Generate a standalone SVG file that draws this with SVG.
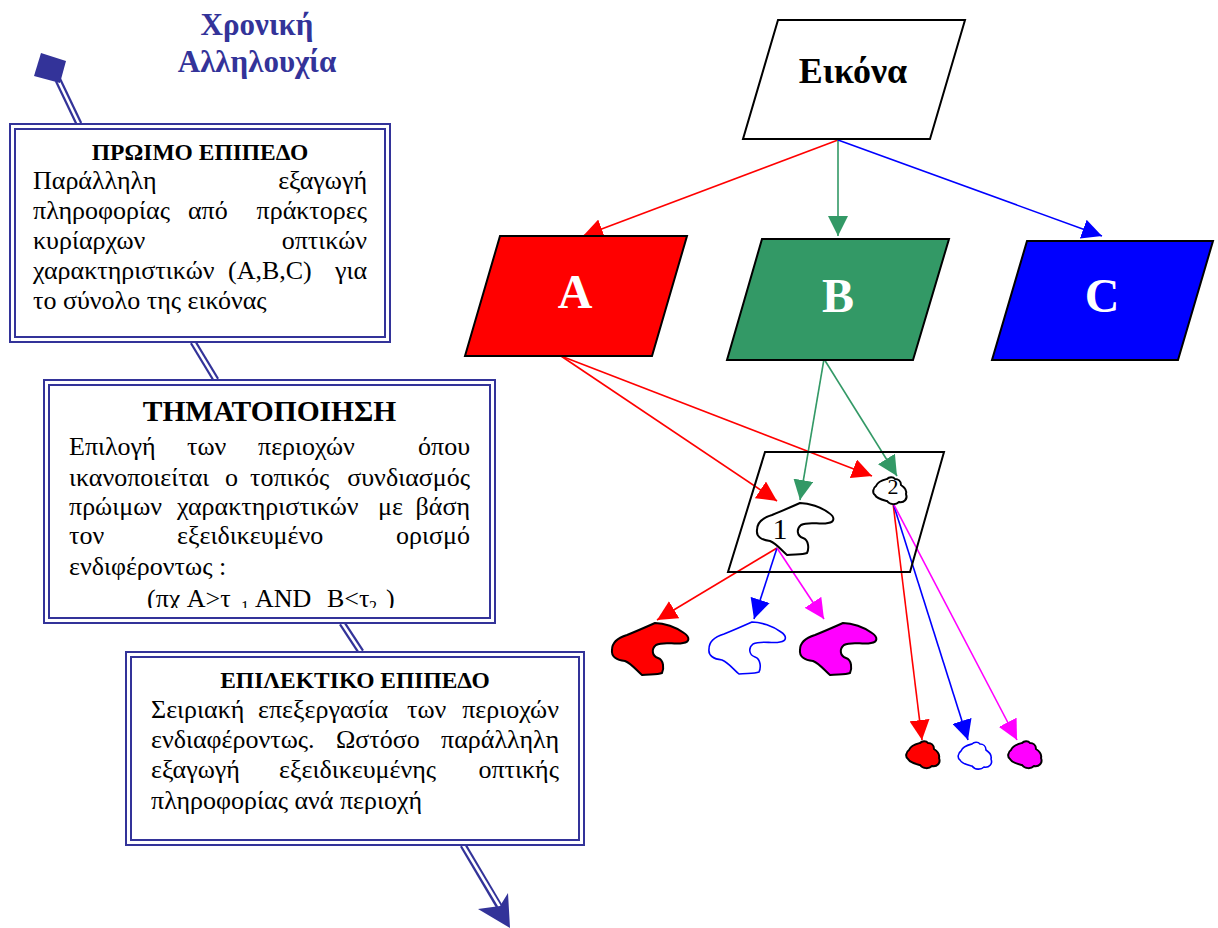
<svg xmlns="http://www.w3.org/2000/svg" width="1218" height="928" viewBox="0 0 1218 928">
  <defs>
    <style>
      .t { font-family: "Liberation Serif", "Times New Roman", serif; fill: #000; }
      .body { font-size: 26px; }
      .hd { font-size: 23.5px; font-weight: bold; text-anchor: middle; }
      .e { text-anchor: end; }
      .ttl { font-family: "Liberation Serif", "Times New Roman", serif; font-size: 31px; font-weight: bold; fill: #333399; text-anchor: middle; }
      .frame { fill: #fff; stroke: #333399; stroke-width: 2; }
      .inner { fill: none; stroke: #333399; stroke-width: 2; }
      .dbl-o { fill: none; stroke: #333399; stroke-width: 7; }
      .dbl-i { fill: none; stroke: #fff; stroke-width: 2.5; }
      .sh { stroke: #000; stroke-width: 2; stroke-linejoin: miter; }
      .lbl { font-family: "Liberation Serif", "Times New Roman", serif; font-weight: bold; fill: #fff; font-size: 48px; text-anchor: middle; }
      .ar { fill: none; stroke-width: 1.6; }
      .red { stroke: #ff0000; }
      .grn { stroke: #339966; }
      .blu { stroke: #0000ff; }
      .mag { stroke: #ff00ff; }
    </style>
    <marker id="ah-red" markerUnits="userSpaceOnUse" markerWidth="20" markerHeight="20" viewBox="0 0 20 20" refX="20" refY="10" orient="auto"><path d="M0,0 L20,10 L0,20 Z" fill="#ff0000"/></marker>
    <marker id="ah-grn" markerUnits="userSpaceOnUse" markerWidth="20" markerHeight="20" viewBox="0 0 20 20" refX="20" refY="10" orient="auto"><path d="M0,0 L20,10 L0,20 Z" fill="#339966"/></marker>
    <marker id="ah-blu" markerUnits="userSpaceOnUse" markerWidth="20" markerHeight="20" viewBox="0 0 20 20" refX="20" refY="10" orient="auto"><path d="M0,0 L20,10 L0,20 Z" fill="#0000ff"/></marker>
    <marker id="ah-mag" markerUnits="userSpaceOnUse" markerWidth="20" markerHeight="20" viewBox="0 0 20 20" refX="20" refY="10" orient="auto"><path d="M0,0 L20,10 L0,20 Z" fill="#ff00ff"/></marker>
    <!-- region outlines -->
    <path id="blob-big" d="M0,0 C9,0 21,4 29,10 C35,14 35,19 28,20 C20,22 9,18 1,22 C-4,26 -3,33 3,35 C9,37 9,46 7,50 C2,52 -6,51 -13,52 C-19,47 -23,41 -30,38 C-38,37 -44,34 -43,27 C-43,20 -38,15 -28,12 C-18,8 -9,4 0,0 Z"/>
    <path id="blob-small" d="M3,9 C5,4 10,3 14,2 C16,0 20,-0.5 22,2 C25,2 28,4 28,8 C31,10 34,13 33,17 C35,22 31,26 26,25 C23,28 17,28 14,24 C10,23 4,22 2,18 C-1,16 0,11 3,9 Z"/>
    <clipPath id="box2-clip"><rect x="50" y="386" width="439" height="222"/></clipPath>
  </defs>

  <!-- heading -->
  <text class="ttl" x="257" y="35">Χρονική</text>
  <text class="ttl" x="257" y="72">Αλληλουχία</text>

  <g id="connectors">
    <!-- processing flow (double line) -->
    <g id="flow">
      <path class="dbl-o" d="M58,80 L79,124"/><path class="dbl-i" d="M58,80 L79,124"/>
      <path class="dbl-o" d="M193,342 L216,380"/><path class="dbl-i" d="M193,342 L216,380"/>
      <path class="dbl-o" d="M342,623 L361,652"/><path class="dbl-i" d="M342,623 L361,652"/>
      <path class="dbl-o" d="M463,845 L499,906"/><path class="dbl-i" d="M463,845 L500,907"/>
      <polygon points="478,909 510,928 508,893 500,906" fill="#333399"/>
    </g>
    <!-- image to feature maps -->
    <line class="ar red" x1="838" y1="140" x2="583" y2="236" marker-end="url(#ah-red)"/>
    <line class="ar grn" x1="838" y1="140" x2="838" y2="236" marker-end="url(#ah-grn)"/>
    <line class="ar blu" x1="838" y1="140" x2="1102" y2="236" marker-end="url(#ah-blu)"/>
    <!-- feature maps to regions -->
    <line class="ar red" x1="561" y1="356" x2="777" y2="501" marker-end="url(#ah-red)"/>
    <line class="ar red" x1="561" y1="356" x2="872" y2="476" marker-end="url(#ah-red)"/>
    <line class="ar grn" x1="824" y1="359" x2="800" y2="500" marker-end="url(#ah-grn)"/>
    <line class="ar grn" x1="824" y1="359" x2="897" y2="476" marker-end="url(#ah-grn)"/>
    <!-- region 1 to per-feature outputs -->
    <line class="ar red" x1="777" y1="548" x2="657" y2="620" marker-end="url(#ah-red)"/>
    <line class="ar blu" x1="777" y1="548" x2="754" y2="619" marker-end="url(#ah-blu)"/>
    <line class="ar mag" x1="777" y1="548" x2="824" y2="619" marker-end="url(#ah-mag)"/>
    <!-- region 2 to per-feature outputs -->
    <line class="ar red" x1="893" y1="503" x2="922" y2="740" marker-end="url(#ah-red)"/>
    <line class="ar blu" x1="893" y1="503" x2="968" y2="740" marker-end="url(#ah-blu)"/>
    <line class="ar mag" x1="893" y1="503" x2="1017" y2="740" marker-end="url(#ah-mag)"/>
  </g>

  <!-- start marker of the sequence -->
  <g id="start">
    <polygon points="41,53 66,61 60,83 34,76" fill="#333399"/>
  </g>

  <g id="early-level">
    <rect class="frame" x="10" y="124" width="380" height="218"/>
    <rect class="inner" x="15" y="129" width="370" height="208"/>
    <text class="t hd" x="200" y="160">ΠΡΩΙΜΟ ΕΠΙΠΕΔΟ</text>
    <text class="t body" y="189"><tspan x="33">Παράλληλη</tspan><tspan x="367" class="e">εξαγωγή</tspan></text>
    <text class="t body" y="219"><tspan x="33">πληροφορίας</tspan><tspan x="188">από</tspan><tspan x="367" class="e">πράκτορες</tspan></text>
    <text class="t body" y="249"><tspan x="33">κυρίαρχων</tspan><tspan x="367" class="e">οπτικών</tspan></text>
    <text class="t body" y="279"><tspan x="33">χαρακτηριστικών</tspan><tspan x="228">(A,B,C)</tspan><tspan x="367" class="e">για</tspan></text>
    <text class="t body" x="33" y="309">το σύνολο της εικόνας</text>
  </g>

  <g id="thematization">
    <rect class="frame" x="44" y="380" width="451" height="243"/>
    <rect class="inner" x="49" y="385" width="441" height="233"/>
    <text class="t" x="269.5" y="421" style="font-size:29.5px;font-weight:bold;text-anchor:middle">ΤΗΜΑΤΟΠΟΙΗΣΗ</text>
    <text class="t body" y="455"><tspan x="69">Επιλογή</tspan><tspan x="187">των</tspan><tspan x="258">περιοχών</tspan><tspan x="470" class="e">όπου</tspan></text>
    <text class="t body" y="486"><tspan x="69">ικανοποιείται</tspan><tspan x="225">ο</tspan><tspan x="250">τοπικός</tspan><tspan x="470" class="e">συνδιασμός</tspan></text>
    <text class="t body" y="515"><tspan x="69">πρώιμων</tspan><tspan x="177">χαρακτηριστικών</tspan><tspan x="378">με</tspan><tspan x="470" class="e">βάση</tspan></text>
    <text class="t body" y="544"><tspan x="69">τον</tspan><tspan x="177">εξειδικευμένο</tspan><tspan x="470" class="e">ορισμό</tspan></text>
    <text class="t body" x="69" y="575">ενδιφέροντως :</text>
    <text class="t body" y="607" clip-path="url(#box2-clip)"><tspan x="147">(πχ A&gt;τ</tspan><tspan x="241" dy="5" style="font-size:16px">1</tspan><tspan x="255" dy="-5">AND</tspan><tspan x="327">B&lt;τ</tspan><tspan x="369" dy="5" style="font-size:16px">2</tspan><tspan x="386" dy="-5">)</tspan></text>
  </g>

  <g id="selective-level">
    <rect class="frame" x="126" y="652" width="458" height="193"/>
    <rect class="inner" x="131" y="657" width="448" height="183"/>
    <text class="t hd" x="355" y="688">ΕΠΙΛΕΚΤΙΚΟ ΕΠΙΠΕΔΟ</text>
    <text class="t body" y="718"><tspan x="151">Σειριακή</tspan><tspan x="258">επεξεργασία</tspan><tspan x="407">των</tspan><tspan x="559" class="e">περιοχών</tspan></text>
    <text class="t body" y="748"><tspan x="151">ενδιαφέροντως.</tspan><tspan x="336">Ωστόσο</tspan><tspan x="559" class="e">παράλληλη</tspan></text>
    <text class="t body" y="778"><tspan x="151">εξαγωγή</tspan><tspan x="279">εξειδικευμένης</tspan><tspan x="559" class="e">οπτικής</tspan></text>
    <text class="t body" x="151" y="809">πληροφορίας ανά περιοχή</text>
  </g>

  <g id="image">
    <polygon class="sh" points="778,20 965,20 930,139 743,139" fill="#fff"/>
    <text class="t" x="853" y="83" style="font-size:36px;font-weight:bold;text-anchor:middle">Εικόνα</text>
  </g>

  <g id="feature-a">
    <polygon class="sh" points="500,236 687,236 652,356 465,356" fill="#ff0000"/>
    <text class="lbl" x="575" y="308">A</text>
  </g>
  <g id="feature-b">
    <polygon class="sh" points="762,239 949,239 913,360 727,360" fill="#339966"/>
    <text class="lbl" x="838" y="312">B</text>
  </g>
  <g id="feature-c">
    <polygon class="sh" points="1027,241 1213,241 1178,360 992,360" fill="#0000ff"/>
    <text class="lbl" x="1102" y="312">C</text>
  </g>

  <g id="image-plane">
    <polygon class="sh" points="765,452 944,452 910,572 728,572" fill="none"/>
  </g>

  <g id="region-1">
    <use href="#blob-big" transform="translate(800,503)" fill="#fff" class="sh"/>
    <text class="t" x="780" y="539" style="font-size:30px;text-anchor:middle">1</text>
  </g>
  <g id="region-2">
    <use href="#blob-small" transform="translate(873,477)" fill="#fff" class="sh"/>
    <text class="t" x="893" y="494" style="font-size:22px;text-anchor:middle">2</text>
  </g>

  <g id="region-1-a"><use href="#blob-big" transform="translate(655,623)" fill="#ff0000" class="sh"/></g>
  <g id="region-1-b"><use href="#blob-big" transform="translate(752,622)" fill="#fff" stroke="#0000ff" stroke-width="1.6"/></g>
  <g id="region-1-c"><use href="#blob-big" transform="translate(843,623)" fill="#ff00ff" class="sh"/></g>

  <g id="region-2-a"><use href="#blob-small" transform="translate(906,741)" fill="#ff0000" class="sh"/></g>
  <g id="region-2-b"><use href="#blob-small" transform="translate(958,742)" fill="#fff" stroke="#0000ff" stroke-width="1.6"/></g>
  <g id="region-2-c"><use href="#blob-small" transform="translate(1008,741)" fill="#ff00ff" class="sh"/></g>
</svg>
